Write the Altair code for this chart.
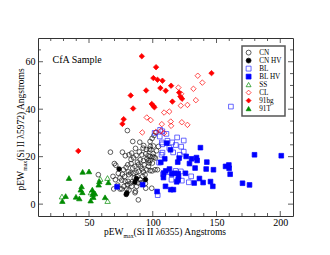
import altair as alt
import pandas as pd

cats = ["CN", "CN HV", "BL", "BL HV", "SS", "CL", "91bg", "91T"]
shapes = ["circle", "circle", "square", "square", "triangle-up", "diamond", "diamond", "triangle-up"]
strokes = ["#1a1a1a", "#000000", "#2a2aff", "#0000ff", "#008b00", "#ff0000", "#ff0000", "#008b00"]
fills = ["transparent", "#000000", "transparent", "#0000ff", "transparent", "transparent", "#ff0000", "#008b00"]
small_cats = ["CN", "CN HV", "BL", "BL HV"]

cn_x = [80.1, 66.8, 69.9, 71.0, 68.8, 70.7, 69.4, 74.3, 88.7, 86.1, 86.4, 94.5, 99.2, 84.3, 89.8, 76.2, 78.5,
        81.4, 83.5, 92.4, 92.9, 97.9, 99.5, 101.0, 102.6, 97.4, 98.1, 98.6, 104.5, 91.4, 94.5, 96.3, 100.3,
        100.0, 101.0, 102.1, 97.9, 95.5, 92.7, 90.1, 88.0, 88.7, 86.1, 84.3, 83.0, 80.4, 79.1, 77.0, 80.9,
        82.7, 81.2, 78.0, 76.2, 74.3, 75.7, 78.3, 80.6, 80.1, 82.2, 83.5, 77.5, 75.7, 79.6, 81.4, 86.9, 89.0,
        90.6, 91.4, 92.7, 94.0, 95.3, 96.6, 97.1, 97.9, 93.2, 92.1, 90.1, 88.7, 87.4, 97.9, 99.5, 94.2, 99.7,
        96.6, 57.3, 85.0, 87.0, 89.5, 86.5, 95.0, 100.5, 103.0, 103.7, 101.8, 85.5, 84.0, 73.0, 72.5, 85.0,
        88.0, 83.0, 91.0]
cn_y = [31.0, 21.9, 17.1, 16.4, 11.7, 10.3, 6.4, 6.4, 1.8, 4.8, 5.4, 6.7, 6.7, 26.4, 26.1, 21.9, 20.4,
        20.8, 21.5, 23.6, 24.7, 26.4, 27.7, 28.9, 30.2, 23.2, 24.3, 22.9, 24.3, 20.8, 21.2, 20.4, 21.2,
        20.1, 19.7, 19.4, 20.1, 19.1, 18.3, 18.7, 17.7, 16.6, 15.9, 15.2, 17.1, 16.6, 15.5, 14.5, 13.6,
        13.1, 12.4, 11.7, 12.6, 11.0, 10.1, 9.6, 9.6, 8.2, 8.7, 7.5, 7.5, 6.4, 6.4, 5.9, 13.4, 13.8,
        15.9, 14.8, 13.6, 12.4, 14.5, 15.9, 17.3, 18.3, 16.6, 11.7, 10.3, 8.9, 7.5, 14.1, 14.0, 8.7, 17.3,
        18.3, 12.4, 19.5, 20.5, 22.0, 23.5, 23.0, 24.5, 22.5, 14.5, 14.5, 11.0, 9.5, 13.0, 8.0, 13.0,
        11.5, 18.8, 9.0]

cnhv_x = [73.6, 79.7, 79.2, 86.0, 87.2, 94.3]
cnhv_y = [14.8, 4.7, 4.1, 9.3, 10.8, 10.3]

bl_x = [161.3, 105.8, 107.5, 110.7, 105.5, 119.1, 124.3, 107.1, 107.5, 115.2, 118.1, 122.3, 107.6, 106.9,
        116.0, 124.3, 121.2, 113.0, 108.1, 114.7, 122.8, 128.3, 130.1, 103.9, 112.0, 118.0, 105.0, 111.5,
        122.0, 101.5]
bl_y = [41.1, 31.3, 30.7, 29.6, 28.5, 28.1, 26.8, 26.0, 25.2, 26.0, 24.9, 24.2, 21.7, 20.8,
        21.8, 22.1, 20.8, 23.7, 12.6, 10.3, 9.9, 9.2, 11.7, 3.8, 13.5, 14.0, 17.5, 26.7,
        13.8, 30.0]

blhv_x = [137.4, 111.0, 113.9, 106.3, 109.4, 120.7, 126.2, 130.4, 134.3, 134.8, 119.6, 128.8, 142.4, 157.1,
          159.7, 159.9, 160.7, 170.4, 175.9, 179.8, 200.8, 133.2, 141.9, 147.6, 113.1, 108.6, 110.2, 108.4,
          114.9, 117.0, 119.9, 120.2, 119.9, 118.8, 125.7, 136.6, 139.5, 132.5, 145.3, 147.1, 110.0, 114.1,
          116.2, 103.4, 72.0, 92.1]
blhv_y = [23.8, 25.7, 22.9, 17.6, 19.1, 19.4, 20.1, 19.1, 19.6, 18.4, 17.7, 17.1, 17.7, 15.9,
          16.5, 15.1, 12.6, 8.8, 8.1, 20.8, 20.4, 15.2, 14.8, 14.5, 14.8, 13.1, 14.0, 11.2,
          12.7, 13.0, 12.9, 11.6, 10.2, 9.4, 13.0, 10.8, 9.1, 8.9, 9.5, 7.5, 7.5, 6.1,
          6.1, 5.3, 7.3, 8.2]

ss_x = [28.8, 58.8, 64.5, 64.6, 51.5]
ss_y = [3.2, 10.6, 11.0, 1.3, 4.9]

cl_x = [135.3, 138.9, 131.9, 120.1, 122.3, 133.8, 127.2, 122.0, 113.0, 108.9, 98.4, 95.3, 114.1, 114.4,
        107.1, 122.8, 127.2, 91.8, 102.4, 106.3, 108.9]
cl_y = [54.1, 51.2, 48.6, 49.1, 46.5, 43.8, 41.8, 41.5, 39.0, 38.6, 35.4, 36.5, 34.8, 33.0,
        33.7, 34.5, 33.4, 30.2, 30.4, 30.9, 29.9]

bg_x = [91.4, 102.6, 146.1, 100.5, 103.7, 107.6, 106.0, 110.2, 114.4, 94.8, 82.7, 120.7, 121.7, 123.0,
        115.4, 99.2, 100.5, 101.3, 84.6, 77.2, 76.2, 41.6]
bg_y = [62.3, 57.7, 55.2, 53.1, 52.4, 52.0, 48.9, 47.8, 49.9, 47.9, 45.8, 47.0, 45.3, 44.4,
        43.2, 42.2, 41.4, 40.8, 40.3, 35.8, 33.8, 22.4]

t91_x = [45.0, 50.0, 34.3, 44.2, 43.5, 44.8, 52.6, 53.4, 52.9, 54.7, 58.1, 57.6, 65.2, 31.7, 29.1, 39.8,
         42.4, 51.3, 62.6, 53.4]
t91_y = [13.6, 13.8, 11.0, 7.5, 6.1, 5.0, 6.1, 5.0, 4.1, 4.5, 9.6, 8.2, 9.2, 3.4, 1.3, 3.1,
         2.4, 1.5, 2.9, 3.0]

x_major = [50, 100, 150, 200]
x_minor = [20, 30, 40, 60, 70, 80, 90, 110, 120, 130, 140, 160, 170, 180, 190]
y_major = [0, 20, 40, 60]
y_minor = [5, 10, 15, 25, 30, 35, 45, 50, 55, 65]

series = [(cn_x, cn_y), (cnhv_x, cnhv_y), (bl_x, bl_y), (blhv_x, blhv_y), (ss_x, ss_y),
          (cl_x, cl_y), (bg_x, bg_y), (t91_x, t91_y)]
rows = []
for name, (xs, ys) in zip(cats, series):
    for a, b in zip(xs, ys):
        rows.append({"x": a, "y": b, "type": name})
df = pd.DataFrame(rows)
df_small = df[df["type"].isin(small_cats)]
df_big = df[~df["type"].isin(small_cats)]

W, H = 255, 178
FONT = "Liberation Serif"
xscale = alt.Scale(domain=[10, 210], nice=False, zero=False)
yscale = alt.Scale(domain=[-5, 70], nice=False, zero=False)
xaxis = alt.Axis(values=x_major, format="d", ticks=False, domain=False, grid=False,
                 labelFont=FONT, labelFontSize=10, labelColor="black", labelPadding=1, title=None)
yaxis = alt.Axis(values=y_major, format="d", ticks=False, domain=False, grid=False,
                 labelFont=FONT, labelFontSize=10, labelColor="black", labelPadding=3, title=None)

leg = alt.Legend(title=None, orient="none", legendX=204, legendY=8, labelFont=FONT, labelFontSize=7.2,
                 rowPadding=-2.3, padding=3, labelOffset=7, symbolStrokeWidth=0.7, symbolSize=24,
                 strokeColor="#555555", fillColor="white")


def pts(data, size):
    return alt.Chart(data).mark_point(filled=True, strokeWidth=0.7, opacity=1, size=size).encode(
        x=alt.X("x:Q", scale=xscale, axis=xaxis),
        y=alt.Y("y:Q", scale=yscale, axis=yaxis),
        shape=alt.Shape("type:N", scale=alt.Scale(domain=cats, range=shapes), legend=leg),
        stroke=alt.Stroke("type:N", scale=alt.Scale(domain=cats, range=strokes), legend=leg),
        fill=alt.Fill("type:N", scale=alt.Scale(domain=cats, range=fills), legend=leg),
    )


def xticks(vals, length):
    d = pd.DataFrame({"x": vals})
    bot = alt.Chart(d).mark_rule(color="#333333", strokeWidth=0.8).encode(
        x=alt.X("x:Q", scale=xscale, axis=xaxis), y=alt.value(H), y2=alt.value(H - length))
    top = alt.Chart(d).mark_rule(color="#333333", strokeWidth=0.8).encode(
        x=alt.X("x:Q", scale=xscale, axis=xaxis), y=alt.value(0), y2=alt.value(length))
    return [bot, top]


def yticks(vals, length):
    d = pd.DataFrame({"y": vals})
    left = alt.Chart(d).mark_rule(color="#333333", strokeWidth=0.8).encode(
        y=alt.Y("y:Q", scale=yscale, axis=yaxis), x=alt.value(0), x2=alt.value(length))
    right = alt.Chart(d).mark_rule(color="#333333", strokeWidth=0.8).encode(
        y=alt.Y("y:Q", scale=yscale, axis=yaxis), x=alt.value(W), x2=alt.value(W - length))
    return [left, right]


one = pd.DataFrame({"k": [0]})


def label(text, x, y, size, angle=0):
    return alt.Chart(one).mark_text(text=text, font=FONT, fontSize=size, align="left",
                                    baseline="alphabetic", angle=angle, color="black").encode(
        x=alt.value(x), y=alt.value(y))


texts = [
    label("CfA Sample", 14.5, 25, 10),
    label("pEW", 66, 196.5, 9.5),
    label("max", 85.6, 199.5, 5.8),
    label("(Si II \u03bb6355) Angstroms", 95.5, 196.5, 9.5),
    label("pEW", -14.5, 152.5, 9.5, 270),
    label("max", -11.5, 132.8, 5.8, 270),
    label("(Si II \u03bb5972) Angstroms", -14.5, 122.8, 9.5, 270),
]

layers = ([pts(df_small, 22), pts(df_big, 30)] + xticks(x_major, 5) + xticks(x_minor, 3)
          + yticks(y_major, 5) + yticks(y_minor, 3) + texts)

chart = alt.layer(*layers).properties(
    width=W, height=H,
    autosize=alt.AutoSizeParams(type="none"),
    padding={"left": 30, "top": 30, "right": 20, "bottom": 30},
).configure_view(stroke="#333333", strokeWidth=1).configure_legend(strokeWidth=1.5)

chart.save("out.html", embed_options={"renderer": "svg", "actions": False})
